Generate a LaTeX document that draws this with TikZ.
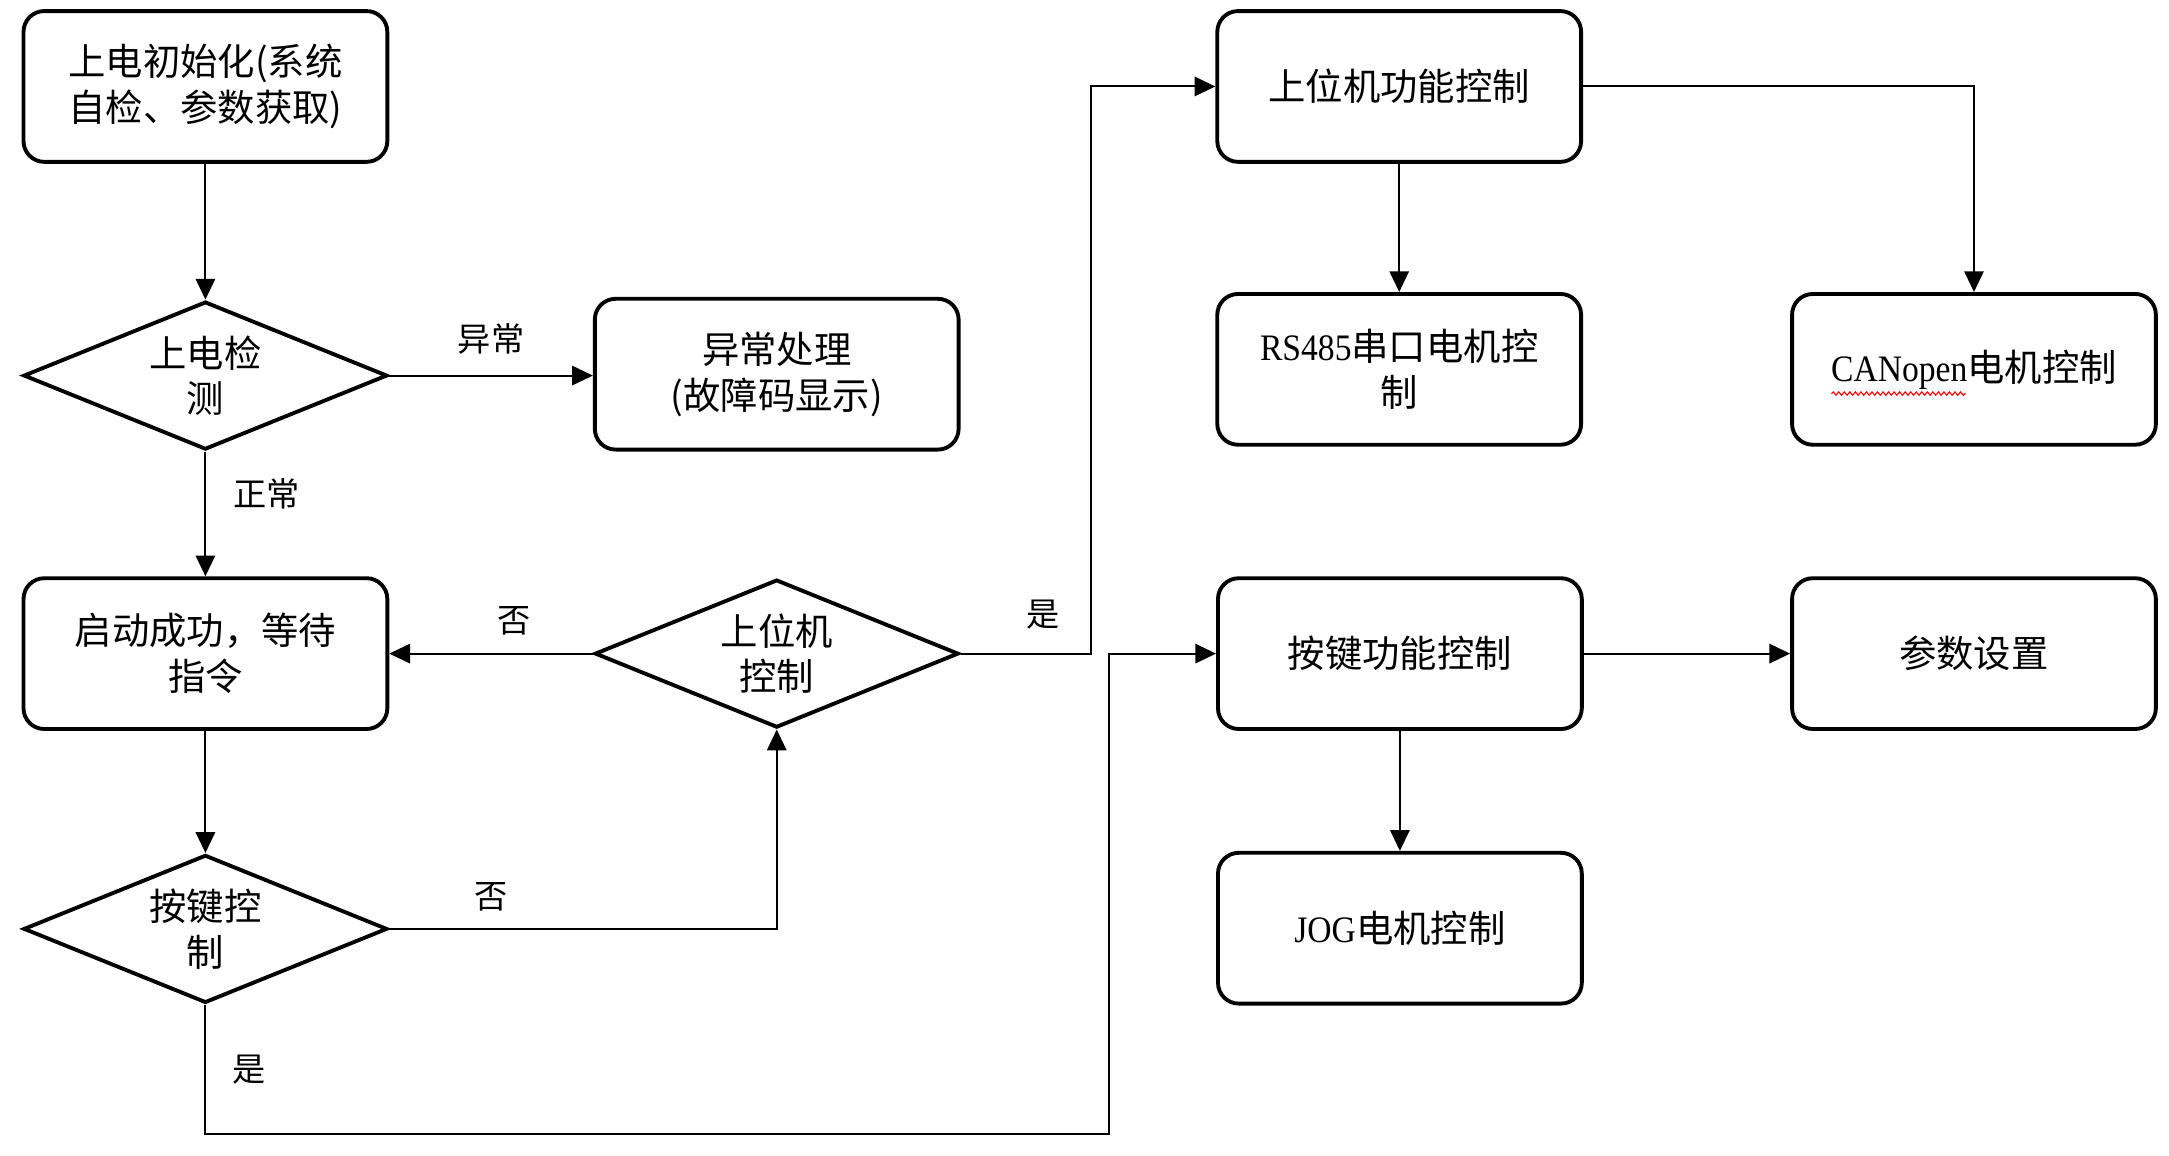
\documentclass[tikz,border=0pt]{standalone}
\usepackage{fontspec}
\setmainfont{Noto Sans CJK SC}
\newfontfamily\lat[FakeStretch=0.9]{Liberation Serif}
\usetikzlibrary{shapes.geometric,arrows.meta,decorations.pathmorphing,calc}
\begin{document}
\begin{tikzpicture}[x=0.5pt,y=-0.5pt,
  box/.style={draw=black,line width=1.4pt,rounded corners=7.5pt,minimum width=131.5pt,minimum height=54.5pt,align=center,font=\fontsize{13.5}{16.5}\selectfont,inner sep=0pt},
  dia/.style={draw=black,line width=1.4pt,shape=diamond,aspect=2.45,inner sep=0pt,minimum width=131.5pt,minimum height=53.5pt,align=center,font=\fontsize{13.5}{16.5}\selectfont},
  arr/.style={draw=black,line width=0.7pt,-{Triangle[length=7.5pt,width=7pt]}},
  lab/.style={font=\fontsize{12}{14}\selectfont,inner sep=0pt}]
\useasboundingbox (0,0) rectangle (1568,835);
\node[box] (A) at (148.5,62.5) {上电初始化(系统\\自检、参数获取)};
\node[dia] (D1) at (148.5,271.5) {上电检\\测};
\node[box] (E) at (561.5,270.5) {异常处理\\(故障码显示)};
\node[box] (B) at (148.5,472.5) {启动成功，等待\\指令};
\node[dia] (D2) at (561.5,472.5) {上位机\\控制};
\node[dia] (D3) at (148.5,671.5) {按键控\\制};
\node[box] (H) at (1011.5,62.5) {上位机功能控制};
\node[box] (R) at (1011.5,267) {{\lat RS485}串口电机控\\制};
\node[box] (C) at (1427,267) {{\lat CANopen}电机控制};
\node[box] (K) at (1012,472.5) {按键功能控制};
\node[box] (P) at (1427,472.5) {参数设置};
\node[box] (J) at (1012,671) {{\lat JOG}电机控制};
\coordinate (yb) at (802,820);
\draw[arr] (A) -- (D1);
\draw[arr] (D1.east) -- (D1.east -| E.west);
\draw[arr] (D1) -- (B);
\draw[arr] (B) -- (D3);
\draw[arr] (D3.east) -| (D2.south);
\draw[arr] (D2.west) -- (B.east);
\draw[arr] (D2.east) -- ++(94,0) |- (H.west);
\draw[arr] (D3.south) |- (yb) |- (K.west);
\draw[arr] (H.east) -| (C.north);
\draw[arr] (H) -- (R);
\draw[arr] (K) -- (P);
\draw[arr] (K) -- (J);
\node[lab] (l1) at (355,245) {异常};
\node[lab] (l2) at (193,357) {正常};
\node[lab] (l3) at (372,449) {否};
\node[lab] (l4) at (355,648) {否};
\node[lab] (l5) at (754,444) {是};
\node[lab] (l6) at (180,773) {是};
\draw[red,line width=0.4pt,decorate,decoration={snake,amplitude=0.6pt,segment length=2pt}] ($(C.center)+(-103,17.5)$) -- ($(C.center)+(-6,17.5)$);
\end{tikzpicture}
\end{document}
